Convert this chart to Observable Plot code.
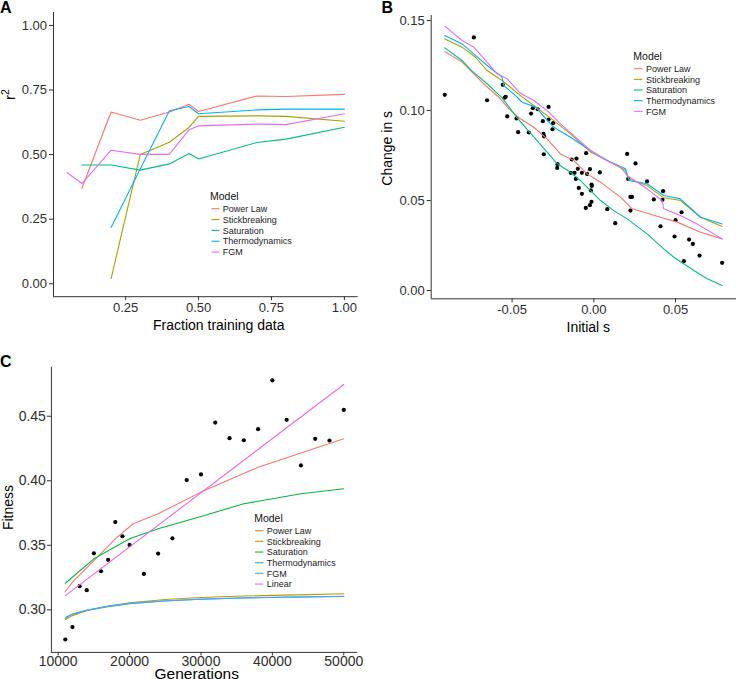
<!DOCTYPE html>
<html><head><meta charset="utf-8">
<script src="https://cdn.jsdelivr.net/npm/d3@7"></script>
<script src="https://cdn.jsdelivr.net/npm/@observablehq/plot@0.6"></script>
<style>
body{margin:0;background:#fff;}
#wrap{position:relative;width:736px;height:679px;overflow:hidden;background:#fff;font-family:"Liberation Sans",Arial,Helvetica,sans-serif;}
#wrap svg{position:absolute;overflow:visible;}
</style></head><body><div id="wrap"></div><script>
// ---------- shared ----------
const models5 = ["Power Law","Stickbreaking","Saturation","Thermodynamics","FGM"];
const colors5 = ["#F8766D","#A3A500","#00BF7D","#00B0F6","#E76BF3"];
const models6 = ["Power Law","Stickbreaking","Saturation","Thermodynamics","FGM","Linear"];
const colors6 = ["#F8766D","#B79F00","#00BA38","#00BFC4","#619CFF","#F564E3"];

// ---------- Panel A ----------
const fracTraining = [0.05,0.1,0.2,0.3,0.4,0.467,0.5,0.7,0.8,1.0];
const r2PowerLaw = [null,0.37,0.665,0.633,0.665,0.695,0.667,0.727,0.725,0.733];
const r2Stickbreaking = [null,null,0.02,0.50,0.548,0.605,0.648,0.650,0.648,0.629];
const r2Saturation = [null,0.46,0.46,0.44,0.464,0.504,0.483,0.547,0.56,0.606];
const r2Thermodynamics = [null,null,0.218,0.444,0.670,0.686,0.658,0.673,0.676,0.676];
const r2FGM = [0.43,0.388,0.517,0.501,0.501,0.596,0.611,0.618,0.616,0.658];
const xTicksA = [0.25,0.5,0.75,1.0];
const yTicksA = [0,0.25,0.5,0.75,1.0];

// ---------- Panel B ----------
const initialS = [-0.0912,-0.0734,-0.0653,-0.0557,-0.0545,-0.0539,-0.0530,-0.0473,-0.0463,-0.0398,-0.0384,-0.0373,-0.0343,-0.0312,-0.0277,-0.0277,-0.0308,-0.0304,-0.0306,-0.0249,-0.0253,-0.0222,-0.0224,-0.0135,-0.0106,-0.0141,-0.0118,-0.0047,-0.0098,-0.0073,-0.0110,-0.0024,0.0037,-0.0041,-0.0092,-0.0073,-0.0014,-0.0012,-0.0018,-0.0049,-0.0024,-0.0014,0.0204,0.0255,0.0210,0.0326,0.0424,0.0224,0.0233,0.0367,0.0420,0.0082,0.0224,0.0537,0.0500,0.0131,0.0408,0.0494,0.0583,0.0606,0.0647,0.0551,0.0785];
const changeS = [0.1087,0.1406,0.1057,0.1143,0.1072,0.1076,0.0967,0.0956,0.0880,0.0878,0.0983,0.1013,0.1007,0.0941,0.1020,0.0950,0.0870,0.0856,0.0757,0.0930,0.0896,0.0702,0.0681,0.0728,0.0733,0.0654,0.0654,0.0763,0.0676,0.0654,0.0620,0.0674,0.0656,0.0648,0.0570,0.0537,0.0589,0.0581,0.0556,0.0459,0.0474,0.0493,0.0759,0.0706,0.0620,0.0606,0.0552,0.0520,0.0520,0.0506,0.0504,0.0452,0.0444,0.0435,0.0391,0.0374,0.0357,0.0300,0.0283,0.0259,0.0194,0.0163,0.0154];
const bPowerLawX = [-0.0912,-0.0806,-0.0745,-0.0663,-0.0581,-0.0520,-0.0449,-0.0367,-0.0286,-0.0204,-0.0122,-0.0041,0.0041,0.0163,0.0235,0.0408,0.0510,0.0653,0.0785];
const bPowerLawY = [0.1328,0.1269,0.1213,0.1139,0.1074,0.1009,0.0954,0.0907,0.0843,0.0759,0.0722,0.0648,0.0602,0.0519,0.0454,0.0407,0.0380,0.0324,0.0287];
const bStickX = [-0.0912,-0.0806,-0.0724,-0.0653,-0.0561,-0.0449,-0.0367,-0.0245,-0.0143,-0.0020,0.0082,0.0194,0.0214,0.0326,0.0428,0.0530,0.0653,0.0785];
const bStickY = [0.1398,0.1352,0.1296,0.1222,0.1167,0.1083,0.1028,0.0944,0.0870,0.0769,0.0722,0.0667,0.0620,0.0583,0.0515,0.0500,0.0407,0.0356];
const bSatX = [-0.0912,-0.0806,-0.0745,-0.0663,-0.0561,-0.0469,-0.0398,-0.0286,-0.0224,-0.0143,-0.0082,0,0.0041,0.0122,0.0204,0.0326,0.0428,0.0490,0.0612,0.0694,0.0785];
const bSatY = [0.1348,0.1278,0.1219,0.1157,0.1070,0.0959,0.0885,0.0769,0.0704,0.0657,0.0611,0.0537,0.0500,0.0444,0.0398,0.0315,0.0231,0.0185,0.0111,0.0065,0.0028];
const bThermoX = [-0.0912,-0.0806,-0.0724,-0.0653,-0.0561,-0.0551,-0.0479,-0.0439,-0.0357,-0.0245,-0.0143,-0.0020,0.0082,0.0194,0.0214,0.0326,0.0428,0.0530,0.0653,0.0785];
const bThermoY = [0.1417,0.1370,0.1306,0.1250,0.1185,0.1139,0.1083,0.1046,0.1019,0.0907,0.0852,0.0778,0.0722,0.0676,0.0611,0.0593,0.0528,0.0509,0.0407,0.0370];
const bFGMX = [-0.0912,-0.0806,-0.0734,-0.0653,-0.0592,-0.0530,-0.0449,-0.0367,-0.0275,-0.0204,-0.0122,-0.0020,0.0061,0.0163,0.0204,0.0326,0.0418,0.0428,0.0530,0.0632,0.0785];
const bFGMY = [0.1469,0.1389,0.1352,0.1269,0.1204,0.1176,0.1096,0.1056,0.0991,0.0926,0.0861,0.0778,0.0731,0.0685,0.0639,0.0565,0.0500,0.0454,0.0417,0.0370,0.0287];
const xTicksB = [-0.05,0,0.05];
const yTicksB = [0,0.05,0.10,0.15];

// ---------- Panel C ----------
const generations = [11000,12000,13000,14000,15000,16000,17000,18000,19000,20000,22000,24000,26000,28000,30000,32000,34000,36000,38000,40000,42000,44000,46000,48000,50000];
const fitness = [0.277,0.2866,0.3183,0.3152,0.3438,0.3299,0.3387,0.368,0.357,0.3503,0.3278,0.3436,0.3554,0.4005,0.4049,0.4451,0.433,0.4314,0.44,0.4778,0.4472,0.4119,0.4325,0.4312,0.4549];
const cPowerLawGen = [11000,12000,15000,18000,20500,24000,30000,38000,50000];
const cPowerLawFit = [0.3142,0.3214,0.3382,0.3550,0.3667,0.3744,0.3912,0.4105,0.4326];
const cSatGen = [11000,15000,20000,24000,30000,36000,44000,50000];
const cSatFit = [0.3206,0.3395,0.3550,0.3628,0.3723,0.3822,0.3899,0.3938];
const cLowGen = [11000,12000,14000,17000,20000,25000,30000,35000,40000,45000,50000];
const cStickFit = [0.2925,0.2955,0.2995,0.3030,0.3055,0.3080,0.3095,0.3105,0.3112,0.3118,0.3124];
const cThermoFit = [0.2935,0.2965,0.2995,0.3025,0.3048,0.3068,0.3082,0.3090,0.3096,0.3100,0.3103];
const cFGMFit = [0.2940,0.2968,0.2998,0.3027,0.3050,0.3070,0.3083,0.3091,0.3097,0.3101,0.3104];
const cLinearGen = [11000,50000];
const cLinearFit = [0.311,0.4746];
const xTicksC = [10000,20000,30000,40000,50000];
const yTicksC = [0.30,0.35,0.40,0.45];

// ---------- build ----------
const FONT = '"Liberation Sans", Arial, Helvetica, sans-serif';
const wrap = document.getElementById("wrap");
function place(el, left, top){ el.style.position="absolute"; el.style.left=left+"px"; el.style.top=top+"px"; wrap.appendChild(el); }
const f2 = d => d.toFixed(2);

const rowsA = [];
[[r2PowerLaw,"Power Law"],[r2Stickbreaking,"Stickbreaking"],[r2Saturation,"Saturation"],[r2Thermodynamics,"Thermodynamics"],[r2FGM,"FGM"]]
  .forEach(([arr,m]) => arr.forEach((v,i)=>{ if(v!=null) rowsA.push({model:m, frac:fracTraining[i], r2:v}); }));

const plotA = Plot.plot({
  width: 368, height: 340, marginLeft: 53, marginRight: 10.3, marginTop: 12, marginBottom: 43.8,
  style: {fontFamily: FONT, fontSize: "13px", color: "#2e2e2e", background: "transparent", overflow: "visible"},
  x: {domain: [0.0025, 1.0475], ticks: xTicksA, tickFormat: f2, tickSize: 4, tickPadding: 2, label: null},
  y: {domain: [-0.05, 1.05], ticks: yTicksA, tickFormat: f2, tickSize: 4, tickPadding: 2.5, label: null},
  color: {domain: models5, range: colors5},
  marks: [
    Plot.ruleX([0.0025], {stroke: "#333"}),
    Plot.ruleY([-0.05], {stroke: "#333"}),
    Plot.line(rowsA, {x: "frac", y: "r2", z: "model", stroke: "model", strokeWidth: 1.1})
  ]
});
place(plotA, 0, 0);

const pointsB = initialS.map((x,i)=>({x, y: changeS[i]}));
const linesB = [];
[[bPowerLawX,bPowerLawY,"Power Law"],[bStickX,bStickY,"Stickbreaking"],[bSatX,bSatY,"Saturation"],[bThermoX,bThermoY,"Thermodynamics"],[bFGMX,bFGMY,"FGM"]]
  .forEach(([xs,ys,m]) => xs.forEach((x,i)=>linesB.push({model:m, x, y: ys[i]})));

const plotB = Plot.plot({
  width: 376, height: 340, marginLeft: 70.7, marginRight: 0, marginTop: 15, marginBottom: 41.7,
  style: {fontFamily: FONT, fontSize: "13px", color: "#2e2e2e", background: "transparent", overflow: "visible"},
  x: {domain: [-0.0995, 0.0873], ticks: xTicksB, tickFormat: f2, tickSize: 4, tickPadding: 2, label: null},
  y: {domain: [-0.0046, 0.1528], ticks: yTicksB, tickFormat: f2, tickSize: 4, tickPadding: 2.5, label: null},
  color: {domain: models5, range: colors5},
  marks: [
    Plot.ruleX([-0.0995], {stroke: "#333"}),
    Plot.ruleY([-0.0046], {stroke: "#333"}),
    Plot.dot(pointsB, {x: "x", y: "y", r: 2.1, fill: "#000", stroke: "none"}),
    Plot.line(linesB, {x: "x", y: "y", z: "model", stroke: "model", strokeWidth: 1.1})
  ]
});
place(plotB, 360, 0);

const pointsC = generations.map((g,i)=>({g, f: fitness[i]}));
const linesC = [];
[[cPowerLawGen,cPowerLawFit,"Power Law"],[cLowGen,cStickFit,"Stickbreaking"],[cSatGen,cSatFit,"Saturation"],[cLowGen,cThermoFit,"Thermodynamics"],[cLowGen,cFGMFit,"FGM"],[cLinearGen,cLinearFit,"Linear"]]
  .forEach(([gs,fs,m]) => gs.forEach((g,i)=>linesC.push({model:m, g, f: fs[i]})));

const plotC = Plot.plot({
  width: 368, height: 339, marginLeft: 50.9, marginRight: 10.8, marginTop: 26.7, marginBottom: 27.1,
  style: {fontFamily: FONT, fontSize: "14px", color: "#2e2e2e", background: "transparent", overflow: "visible"},
  x: {domain: [9050, 51950], ticks: xTicksC, tickFormat: d => String(d), tickSize: 3.5, tickPadding: 0.5, label: null},
  y: {domain: [0.267, 0.488], ticks: yTicksC, tickFormat: f2, tickSize: 4, tickPadding: 1.5, label: null},
  color: {domain: models6, range: colors6},
  marks: [
    Plot.ruleX([9050], {stroke: "#333"}),
    Plot.ruleY([0.267], {stroke: "#333"}),
    Plot.dot(pointsC, {x: "g", y: "f", r: 2.1, fill: "#000", stroke: "none"}),
    Plot.line(linesC, {x: "g", y: "f", z: "model", stroke: "model", strokeWidth: 1.1})
  ]
});
place(plotC, 0, 340);

// ---------- overlay: titles, panel letters, legends ----------
const ov = d3.create("svg").attr("width", 736).attr("height", 679)
  .style("position","absolute").style("left","0px").style("top","0px")
  .style("font-family", FONT).style("pointer-events","none");

function txt(x, y, s, size, opts={}){
  const t = ov.append("text").attr("x", x).attr("y", y).attr("font-size", size).attr("fill", opts.fill || "#000")
    .attr("text-anchor", opts.anchor || "start").text(s);
  if (opts.bold) t.attr("font-weight", "bold");
  return t;
}
function rot(x, y, s, size){
  return ov.append("text").attr("transform", `translate(${x},${y}) rotate(-90)`).attr("font-size", size)
    .attr("text-anchor", "middle").attr("fill", "#000").text(s);
}
// panel letters
txt(0, 13.3, "A", 16, {bold: true});
txt(381.5, 13.3, "B", 16, {bold: true});
txt(0, 366.5, "C", 16, {bold: true});
// axis titles
txt(218.8, 330, "Fraction training data", 14, {anchor: "middle"});
const r2 = ov.append("text").attr("transform", "translate(15,100) rotate(-90)").attr("font-size", 15).attr("fill", "#000");
r2.append("tspan").text("r");
r2.append("tspan").attr("font-size", 10.5).attr("dy", -6).text("2");
txt(588.3, 331.5, "Initial s", 14, {anchor: "middle"});
rot(392, 148.3, "Change in s", 14);
rot(12.5, 507.5, "Fitness", 14);
txt(196.7, 678.5, "Generations", 15.5, {anchor: "middle"});

function legend(tx, ty, sx0, sx1, textX, row0, rowH, models, colors){
  txt(tx, ty, "Model", 10.5, {fill: "#111"});
  models.forEach((m, i) => {
    const y = row0 + rowH * i;
    ov.append("line").attr("x1", sx0).attr("x2", sx1).attr("y1", y).attr("y2", y)
      .attr("stroke", colors[i]).attr("stroke-width", 1.1);
    txt(textX, y + 3.2, m, 9, {fill: "#222"});
  });
}
legend(210, 200, 211.5, 219.5, 222.8, 208.7, 10.85, models5, colors5);
legend(633.3, 60, 634, 642.5, 646, 68.7, 10.65, models5, colors5);
legend(254.2, 521.7, 255, 263.3, 266.7, 530.7, 10.67, models6, colors6);

wrap.appendChild(ov.node());
</script></body></html>
